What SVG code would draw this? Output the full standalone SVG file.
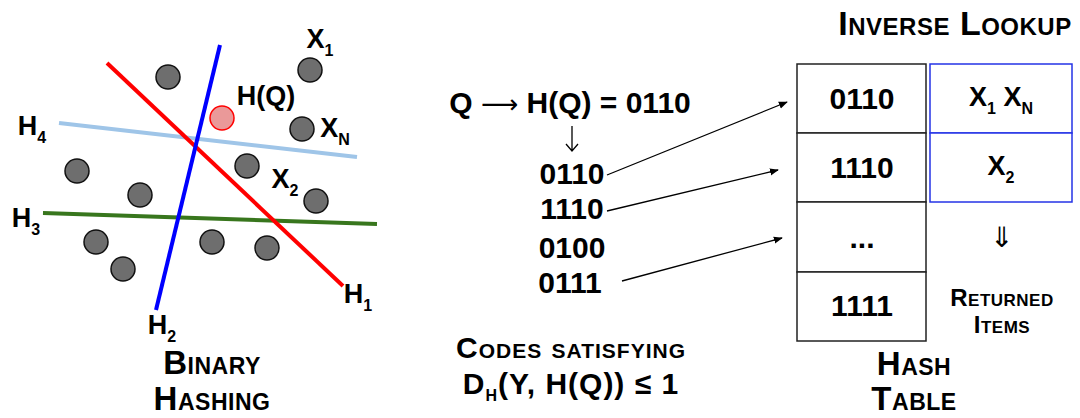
<svg xmlns="http://www.w3.org/2000/svg" width="1080" height="418" viewBox="0 0 1080 418">
<style>
text{font-family:"Liberation Sans",Arial,sans-serif;font-weight:bold;fill:#000;text-anchor:middle}
.lbl{font-size:27px}
.sc{font-variant:small-caps;font-size:33px;letter-spacing:0.5px}
.sc2{font-variant:small-caps;font-size:30px;letter-spacing:1px}
.sub{font-size:16px}
.code{font-size:30px}
.sym{font-family:"DejaVu Sans",sans-serif;font-weight:normal}
.pt{fill:#6e6e6e;stroke:#111;stroke-width:1.5}
.cell{fill:#fff;stroke:#222;stroke-width:1.5}
.bcell{fill:#fff;stroke:#2433e6;stroke-width:1.5}
.conn{stroke:#000;stroke-width:1.3;fill:none;marker-end:url(#ah)}
</style>
<defs>
<marker id="ah" viewBox="0 0 10 10" refX="9" refY="5" markerWidth="9" markerHeight="9" orient="auto" markerUnits="userSpaceOnUse"><path d="M0,1 L10,5 L0,9 z" fill="#000"/></marker>
</defs>
<g id="hyperplanes">
<line x1="59" y1="123" x2="357" y2="157" stroke="#9fc5e8" stroke-width="4"/>
<line x1="43" y1="213" x2="377" y2="224" stroke="#38761d" stroke-width="4"/>
<line x1="107" y1="63" x2="343" y2="286" stroke="#ff0000" stroke-width="4"/>
<line x1="220" y1="45" x2="156" y2="310" stroke="#0000ff" stroke-width="4"/>
</g>
<g id="points">
<circle class="pt" cx="168" cy="77" r="12"/>
<circle class="pt" cx="310" cy="70" r="12"/>
<circle cx="222" cy="118" r="12" fill="#ea9999" stroke="#ff0000" stroke-width="1.5"/>
<circle class="pt" cx="302" cy="129" r="12"/>
<circle class="pt" cx="77" cy="171" r="12"/>
<circle class="pt" cx="247" cy="166" r="12"/>
<circle class="pt" cx="140" cy="195" r="12"/>
<circle class="pt" cx="316" cy="201" r="12"/>
<circle class="pt" cx="96" cy="242" r="12"/>
<circle class="pt" cx="212" cy="242" r="12"/>
<circle class="pt" cx="267" cy="248" r="12"/>
<circle class="pt" cx="123" cy="269" r="12"/>
</g>
<g id="plane-labels">
<text class="lbl" x="320" y="48">X<tspan class="sub" dy="8">1</tspan></text>
<text class="lbl" x="266" y="105">H(Q)</text>
<text class="lbl" x="335" y="137">X<tspan class="sub" dy="8">N</tspan></text>
<text class="lbl" x="285" y="188">X<tspan class="sub" dy="8">2</tspan></text>
<text class="lbl" x="32" y="135">H<tspan class="sub" dy="8">4</tspan></text>
<text class="lbl" x="26" y="227">H<tspan class="sub" dy="8">3</tspan></text>
<text class="lbl" x="358" y="303">H<tspan class="sub" dy="8">1</tspan></text>
<text class="lbl" x="162" y="334">H<tspan class="sub" dy="8">2</tspan></text>
<text class="sc" x="212" y="374">Binary</text>
<text class="sc" x="212" y="410">Hashing</text>
</g>
<g id="query">
<text class="code" x="570" y="113">Q <tspan class="sym" style="font-size:26px">⟶</tspan> H(Q) = 0110</text>
<path d="M572,126 V151 M566,144 L572,151 L578,144" stroke="#000" stroke-width="1.3" fill="none"/>
</g>
<g id="codes">
<text class="code" x="572" y="184">0110</text>
<text class="code" x="572" y="219">1110</text>
<text class="code" x="572" y="258">0100</text>
<text class="code" x="570" y="293">0111</text>
<text class="sc2" x="571" y="358">Codes satisfying</text>
<text class="sc2" x="571" y="394">D<tspan class="sub" dy="7">H</tspan><tspan dy="-7">(Y, H(Q)) ≤ 1</tspan></text>
</g>
<g id="connectors">
<line class="conn" x1="607" y1="175" x2="787" y2="102"/>
<line class="conn" x1="607" y1="211" x2="778" y2="170"/>
<line class="conn" x1="622" y1="281" x2="782" y2="238"/>
</g>
<g id="hash-table">
<rect class="cell" x="797" y="64" width="129" height="69"/>
<rect class="cell" x="797" y="133" width="129" height="69"/>
<rect class="cell" x="797" y="202" width="129" height="70"/>
<rect class="cell" x="797" y="272" width="129" height="69"/>
<text class="code" x="862" y="109">0110</text>
<text class="code" x="862" y="178">1110</text>
<text class="code" x="862" y="248">...</text>
<text class="code" x="862" y="316">1111</text>
<text class="sc" x="914" y="375">Hash</text>
<text class="sc" x="914" y="410">Table</text>
</g>
<g id="buckets">
<rect class="bcell" x="930" y="64" width="142" height="69"/>
<rect class="bcell" x="930" y="133" width="142" height="69"/>
<text class="lbl" x="1001" y="106">X<tspan class="sub" dy="8">1</tspan><tspan dy="-8">  X</tspan><tspan class="sub" dy="8">N</tspan></text>
<text class="lbl" x="1001" y="175">X<tspan class="sub" dy="8">2</tspan></text>
<text class="sym" x="1002" y="247" style="font-size:28px">⇓</text>
<text class="sc" x="1002" y="306" style="font-size:24px">Returned</text>
<text class="sc" x="1002" y="333" style="font-size:24px">Items</text>
</g>
<g id="title">
<text class="sc" x="955" y="35" style="font-size:34px">Inverse Lookup</text>
</g>
</svg>
